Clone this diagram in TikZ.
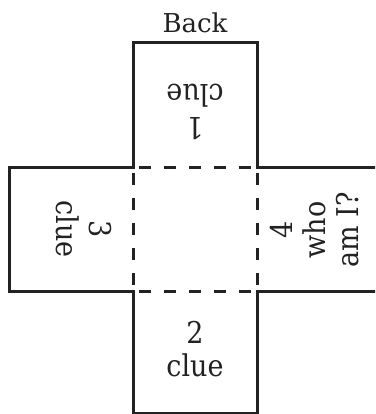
\documentclass[tikz,border=0pt]{standalone}
\usepackage{fontspec}
\setmainfont{DejaVu Serif}
\newfontfamily\labelfont[FakeStretch=0.9]{DejaVu Serif}
\definecolor{ink}{RGB}{34,34,34}
\tikzset{
  outline/.style={draw=ink, line width=3pt, line join=miter},
  foldline/.style={draw=ink, line width=3pt, dash pattern=on 12pt off 12.8pt, dash phase=18.4pt},
  facetext/.style={inner sep=0pt, align=center, text=ink,
    font=\labelfont\fontsize{30}{33}\selectfont},
  titletext/.style={inner sep=0pt, text=ink, font=\fontsize{26}{30}\selectfont}
}
\begin{document}
\begin{tikzpicture}[x=1pt, y=-1pt]
  \useasboundingbox (0,0) rectangle (375,414);
  \clip (0,0) rectangle (375,414);

  % cut line of the cross-shaped net
  \draw[outline] (133,43) -- (257,43) -- (257,167) -- (383,167) -- (383,291)
    -- (257,291) -- (257,413) -- (133,413) -- (133,291) -- (9,291)
    -- (9,167) -- (133,167) -- cycle;

  % fold lines around the centre face
  \draw[foldline] (133,167) -- (257,167) -- (257,291) -- (133,291) -- cycle;

  % labels
  \node[titletext, anchor=base] (back) at (195,33) {Back};
  \node[facetext, rotate=180] (face1) at (195,112) {1\\clue};
  \node[facetext] (face2) at (195,349) {2\\clue};
  \node[facetext, rotate=-90] (face3) at (84,229) {3\\clue};
  \node[facetext, rotate=90] (face4) at (315,230) {4\\who\\am I?};
\end{tikzpicture}
\end{document}
